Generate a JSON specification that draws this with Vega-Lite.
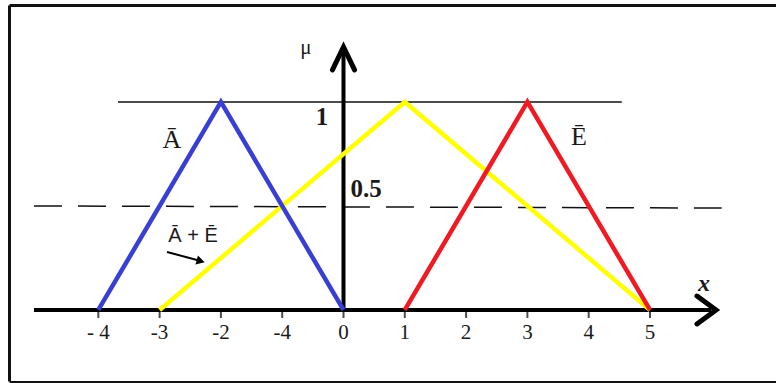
{
  "$schema": "https://vega.github.io/schema/vega-lite/v6.json",
  "width": 776,
  "height": 383,
  "autosize": {"type": "fit", "contains": "padding"},
  "padding": 0,
  "background": "white",
  "config": {"view": {"stroke": null}},
  "datasets": {
    "frame": [
      {"side": "left", "x": -5.449, "x2": -5.449, "y": -0.344, "y2": 1.464, "w": 3},
      {"side": "top", "x": -5.449, "x2": 7.1, "y": 1.464, "y2": 1.464, "w": 3},
      {"side": "bottom", "x": -5.449, "x2": 7.1, "y": -0.346, "y2": -0.346, "w": 2}
    ],
    "guides": [
      {"kind": "one", "x": -3.68, "x2": 4.54, "y": 1.0, "y2": 1.0}
    ],
    "dashed": [
      {"x": -5.05, "x2": 6.17, "y": 0.5, "y2": 0.49}
    ],
    "axes": [
      {"name": "xaxis", "x": -5.05, "x2": 6.0, "y": 0, "y2": 0},
      {"name": "yaxis", "x": 0, "x2": 0, "y": 0, "y2": 1.25}
    ],
    "ticks": [
      {"x": -4, "label": "- 4"}, {"x": -3, "label": "-3"}, {"x": -2, "label": "-2"},
      {"x": -1, "label": "-4"}, {"x": 0, "label": "0"}, {"x": 1, "label": "1"},
      {"x": 2, "label": "2"}, {"x": 3, "label": "3"}, {"x": 4, "label": "4"},
      {"x": 5, "label": "5"}
    ],
    "tri": [
      {"set": "A+E", "order": 1, "x": -3, "mu": 0},
      {"set": "A+E", "order": 2, "x": 1, "mu": 1},
      {"set": "A+E", "order": 3, "x": 5, "mu": 0},
      {"set": "A", "order": 1, "x": -4, "mu": 0},
      {"set": "A", "order": 2, "x": -2, "mu": 1},
      {"set": "A", "order": 3, "x": 0, "mu": 0},
      {"set": "E", "order": 1, "x": 1, "mu": 0},
      {"set": "E", "order": 2, "x": 3, "mu": 1},
      {"set": "E", "order": 3, "x": 5, "mu": 0}
    ],
    "arrowheads": [
      {"head": "x", "order": 1, "x": 5.767, "y": 0.067},
      {"head": "x", "order": 2, "x": 6.077, "y": 0},
      {"head": "x", "order": 3, "x": 5.767, "y": -0.067},
      {"head": "y", "order": 1, "x": -0.18, "y": 1.154},
      {"head": "y", "order": 2, "x": 0, "y": 1.264},
      {"head": "y", "order": 3, "x": 0.18, "y": 1.154}
    ],
    "pointer": [
      {"x": -2.879, "y": 0.279, "x2": -2.33, "y2": 0.235}
    ],
    "pointerhead": [
      {"x": -2.33, "y": 0.235}
    ],
    "boldserif": [
      {"text": "1", "x": -0.351, "y": 0.93},
      {"text": "0.5", "x": 0.37, "y": 0.582}
    ],
    "serif": [
      {"text": "Ā", "x": -2.798, "y": 0.817},
      {"text": "Ē", "x": 3.842, "y": 0.832}
    ],
    "sans": [
      {"text": "Ā + Ē", "x": -2.455, "y": 0.356}
    ],
    "mu": [
      {"text": "μ", "x": -0.612, "y": 1.26}
    ],
    "xlabel": [
      {"text": "x", "x": 5.881, "y": 0.125}
    ]
  },
  "layer": [
    {
      "data": {"name": "frame"},
      "mark": {"type": "rule", "color": "#111111", "clip": true},
      "encoding": {
        "x": {"field": "x", "type": "quantitative", "scale": {"domain": [-5.604, 7.056], "nice": false, "zero": false}, "axis": null},
        "x2": {"field": "x2"},
        "y": {"field": "y", "type": "quantitative", "scale": {"domain": [-0.351, 1.49], "nice": false, "zero": false}, "axis": null},
        "y2": {"field": "y2"},
        "strokeWidth": {"field": "w", "type": "quantitative", "scale": null}
      }
    },
    {
      "data": {"name": "guides"},
      "mark": {"type": "rule", "color": "#111111", "strokeWidth": 1.5},
      "encoding": {
        "x": {"field": "x", "type": "quantitative"},
        "x2": {"field": "x2"},
        "y": {"field": "y", "type": "quantitative"},
        "y2": {"field": "y2"}
      }
    },
    {
      "data": {"name": "dashed"},
      "mark": {"type": "rule", "color": "#111111", "strokeWidth": 1.5, "strokeDash": [28, 16]},
      "encoding": {
        "x": {"field": "x", "type": "quantitative"},
        "x2": {"field": "x2"},
        "y": {"field": "y", "type": "quantitative"},
        "y2": {"field": "y2"}
      }
    },
    {
      "data": {"name": "axes"},
      "mark": {"type": "rule", "color": "#000000", "strokeWidth": 4},
      "encoding": {
        "x": {"field": "x", "type": "quantitative"},
        "x2": {"field": "x2"},
        "y": {"field": "y", "type": "quantitative"},
        "y2": {"field": "y2"}
      }
    },
    {
      "data": {"name": "arrowheads"},
      "mark": {"type": "line", "color": "#000000", "strokeWidth": 5, "strokeCap": "round", "strokeJoin": "miter"},
      "encoding": {
        "x": {"field": "x", "type": "quantitative"},
        "y": {"field": "y", "type": "quantitative"},
        "detail": {"field": "head"},
        "order": {"field": "order"}
      }
    },
    {
      "data": {"name": "ticks"},
      "mark": {"type": "tick", "orient": "vertical", "color": "#000000", "thickness": 2, "size": 8, "yOffset": 4},
      "encoding": {
        "x": {"field": "x", "type": "quantitative"},
        "y": {"datum": 0, "type": "quantitative"}
      }
    },
    {
      "data": {"name": "ticks"},
      "mark": {"type": "text", "font": "Liberation Serif", "fontSize": 21, "color": "#1a1a1a", "baseline": "middle", "align": "center"},
      "encoding": {
        "x": {"field": "x", "type": "quantitative"},
        "y": {"datum": -0.113, "type": "quantitative"},
        "text": {"field": "label"}
      }
    },
    {
      "data": {"name": "tri"},
      "mark": {"type": "line", "strokeWidth": 4.5},
      "encoding": {
        "x": {"field": "x", "type": "quantitative"},
        "y": {"field": "mu", "type": "quantitative"},
        "color": {"field": "set", "type": "nominal", "scale": {"domain": ["A+E", "A", "E"], "range": ["#ffff00", "#3a3fd4", "#f01a22"]}, "legend": null},
        "order": {"field": "order"}
      }
    },
    {
      "data": {"name": "pointer"},
      "mark": {"type": "rule", "color": "#000000", "strokeWidth": 2},
      "encoding": {
        "x": {"field": "x", "type": "quantitative"},
        "x2": {"field": "x2"},
        "y": {"field": "y", "type": "quantitative"},
        "y2": {"field": "y2"}
      }
    },
    {
      "data": {"name": "pointerhead"},
      "mark": {"type": "point", "shape": "triangle-right", "filled": true, "color": "#000000", "size": 90, "angle": 15, "opacity": 1},
      "encoding": {
        "x": {"field": "x", "type": "quantitative"},
        "y": {"field": "y", "type": "quantitative"}
      }
    },
    {
      "data": {"name": "boldserif"},
      "mark": {"type": "text", "font": "Liberation Serif", "fontSize": 25, "fontWeight": "bold", "color": "#1a1a1a", "baseline": "middle", "align": "center"},
      "encoding": {
        "x": {"field": "x", "type": "quantitative"},
        "y": {"field": "y", "type": "quantitative"},
        "text": {"field": "text"}
      }
    },
    {
      "data": {"name": "serif"},
      "mark": {"type": "text", "font": "Liberation Serif", "fontSize": 26, "color": "#1a1a1a", "baseline": "middle", "align": "center"},
      "encoding": {
        "x": {"field": "x", "type": "quantitative"},
        "y": {"field": "y", "type": "quantitative"},
        "text": {"field": "text"}
      }
    },
    {
      "data": {"name": "sans"},
      "mark": {"type": "text", "font": "Liberation Sans", "fontSize": 20, "color": "#1a1a1a", "baseline": "middle", "align": "center"},
      "encoding": {
        "x": {"field": "x", "type": "quantitative"},
        "y": {"field": "y", "type": "quantitative"},
        "text": {"field": "text"}
      }
    },
    {
      "data": {"name": "mu"},
      "mark": {"type": "text", "font": "Liberation Serif", "fontSize": 21, "color": "#1a1a1a", "baseline": "middle", "align": "center"},
      "encoding": {
        "x": {"field": "x", "type": "quantitative"},
        "y": {"field": "y", "type": "quantitative"},
        "text": {"field": "text"}
      }
    },
    {
      "data": {"name": "xlabel"},
      "mark": {"type": "text", "font": "Liberation Serif", "fontSize": 24, "fontWeight": "bold", "fontStyle": "italic", "color": "#1a1a1a", "baseline": "middle", "align": "center"},
      "encoding": {
        "x": {"field": "x", "type": "quantitative"},
        "y": {"field": "y", "type": "quantitative"},
        "text": {"field": "text"}
      }
    }
  ]
}
